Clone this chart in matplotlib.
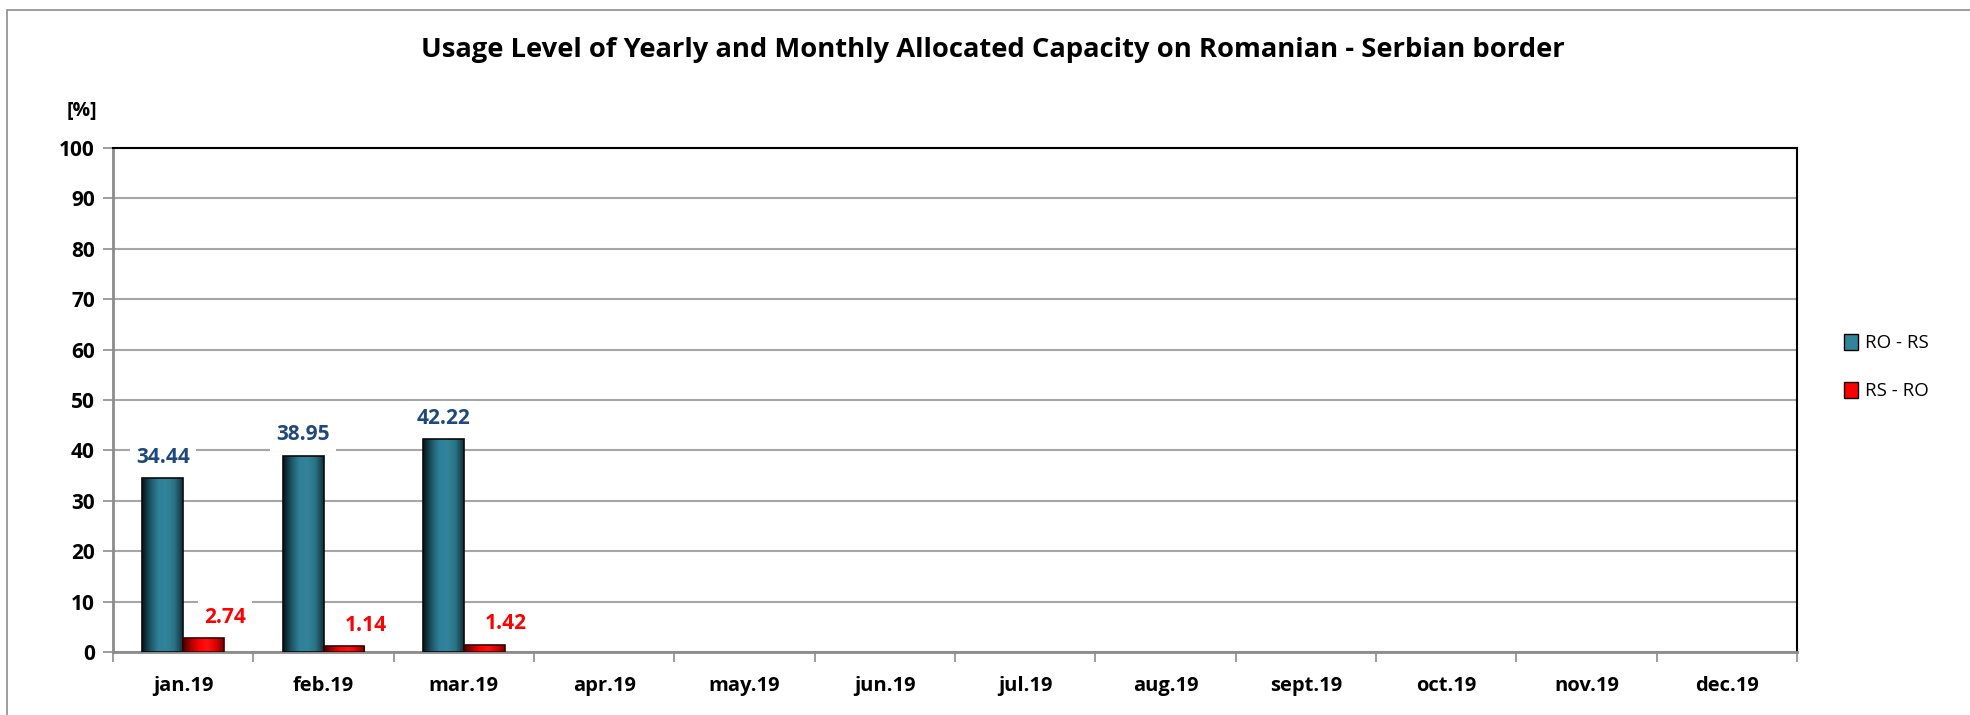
import numpy as np
import matplotlib
matplotlib.use("Agg")
import matplotlib.pyplot as plt
from matplotlib.colors import LinearSegmentedColormap
from matplotlib.patches import Patch, Rectangle

months = ["jan.19", "feb.19", "mar.19", "apr.19", "may.19", "jun.19",
          "jul.19", "aug.19", "sept.19", "oct.19", "nov.19", "dec.19"]
ro_rs = [34.44, 38.95, 42.22]
rs_ro = [2.74, 1.14, 1.42]
series_names = ["RO - RS", "RS - RO"]
y_ticks = list(range(0, 101, 10))

TITLE = "Usage Level of Yearly and Monthly Allocated Capacity on Romanian - Serbian border"
FONT = "Open Sans"

blue_cmap = LinearSegmentedColormap.from_list(
    "cyl_blue", ["#07151a", "#1d5565", "#2f8099", "#31849b", "#2a7286", "#10313b"])
red_cmap = LinearSegmentedColormap.from_list(
    "cyl_red", ["#4a0000", "#b00000", "#ff0000", "#ff1010", "#e00000", "#7a0000"])

W, H = 1970, 715
fig = plt.figure(figsize=(W / 100, H / 100), dpi=100)
fig.patch.set_facecolor("white")

# outer chart frame (only left and top edge are visible)
fig.add_artist(Rectangle((7 / W, -0.1), 1.2, 1 - 10 / H + 0.1, transform=fig.transFigure,
                         fill=False, edgecolor="#8c8c8c", linewidth=1.2))

ax = fig.add_axes([113 / W, 63 / H, (1797 - 113) / W, (652 - 148) / H])

x = np.arange(len(months))
bw = 0.29


def cyl_bars(xpos, vals, cmap, edge):
    bars = ax.bar(xpos, vals, width=bw, facecolor="none", edgecolor=edge,
                  linewidth=1.2, zorder=4)
    grad = np.linspace(0, 1, 64).reshape(1, -1)
    for b in bars:
        x0, y0 = b.get_x(), b.get_y()
        im = ax.imshow(grad, cmap=cmap, aspect="auto", zorder=3,
                       extent=[x0, x0 + b.get_width(), y0, y0 + b.get_height()])
        im.set_clip_path(b)
    return bars


b1 = cyl_bars(x[:len(ro_rs)] - bw / 2, ro_rs, blue_cmap, "#0a0a0a")
b2 = cyl_bars(x[:len(rs_ro)] + bw / 2, rs_ro, red_cmap, "#3a0000")

for i, v in enumerate(ro_rs):
    ax.text(x[i] - bw / 2, v + 4.2, f"{v:.2f}", ha="center", va="center",
            fontsize=15, fontweight="bold", color="#1f497d", family=FONT, zorder=5,
            bbox=dict(boxstyle="square,pad=0.3", facecolor="white", edgecolor="none"))
for i, v in enumerate(rs_ro):
    ax.text(x[i] + bw / 2 + 0.155, v + 4.2, f"{v:.2f}", ha="center", va="center",
            fontsize=15, fontweight="bold", color="#ff0000", family=FONT, zorder=5,
            bbox=dict(boxstyle="square,pad=0.3", facecolor="white", edgecolor="none"))

ax.set_xlim(-0.5, len(months) - 0.5)
ax.set_ylim(0, 100)
ax.set_yticks(y_ticks)
ax.set_yticklabels([str(t) for t in y_ticks], fontsize=15, fontweight="bold", family=FONT)
ax.set_xticks(x)
ax.set_xticklabels(months, fontsize=14.5, fontweight="bold", family=FONT)
ax.set_xticks(np.arange(-0.5, len(months)), minor=True)
ax.tick_params(axis="x", which="major", length=0, pad=17)
ax.tick_params(axis="x", which="minor", length=7, width=1.2, color="#8c8c8c", direction="out")
ax.tick_params(axis="y", length=7, width=1.2, color="#8c8c8c", direction="out", pad=6)

ax.yaxis.grid(True, color="#a6a6a6", linewidth=1.5, zorder=0)
ax.set_axisbelow(True)
for s in ("left", "bottom"):
    ax.spines[s].set_color("#8c8c8c")
    ax.spines[s].set_linewidth(2)
for s in ("top", "right"):
    ax.spines[s].set_color("black")
    ax.spines[s].set_linewidth(1.5)

fig.text(993 / W, 1 - 50 / H, TITLE, ha="center", va="center",
         fontsize=19.7, fontweight="bold", family=FONT)
fig.text(82 / W, 1 - 111 / H, "[%]", ha="center", va="center",
         fontsize=14, fontweight="bold", family=FONT)

handles = [Patch(facecolor="#31849b", edgecolor="black", label=series_names[0]),
           Patch(facecolor="#ff0000", edgecolor="black", label=series_names[1])]
fig.legend(handles=handles, loc="center left", bbox_to_anchor=(1827 / W, 1 - 367 / H),
           frameon=False, handlelength=0.75, handleheight=0.95,
           handletextpad=0.4, labelspacing=1.55, prop={"family": FONT, "size": 13.5})

fig.savefig("out.png", dpi=100)
